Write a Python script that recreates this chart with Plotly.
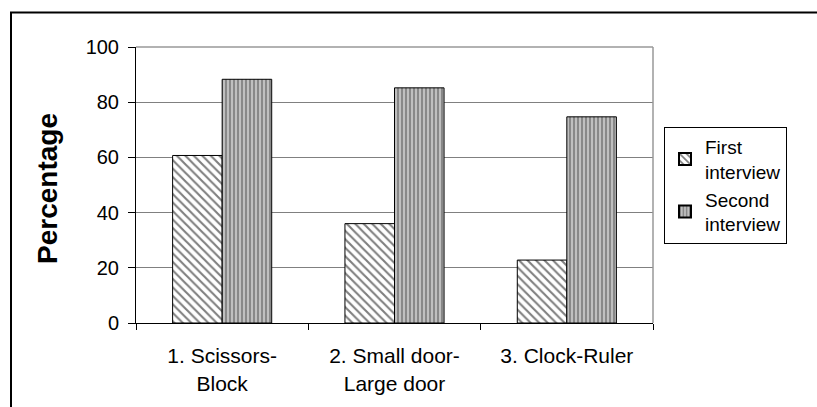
import plotly.graph_objects as go

categories = ["1. Scissors-<br>Block", "2. Small door-<br>Large door", "3. Clock-Ruler"]
first_interview = [60.7, 36.0, 22.8]
second_interview = [88.3, 85.2, 74.7]
y_ticks = [0, 20, 40, 60, 80, 100]
y_title = "Percentage"

W, H = 817, 407
L, R, T, B = 136, 653, 47, 327
pw, ph = R - L, B - T

def px_x(x):
    return (x - L) / pw

def px_y(y):
    return (B - y) / ph

fig = go.Figure()
fig.add_trace(go.Bar(
    x=categories, y=first_interview, name="First<br>interview",
    marker=dict(color="white", line=dict(color="black", width=1),
                pattern=dict(shape="\\", fgcolor="black", bgcolor="white", size=6, solidity=0.35)),
))
fig.add_trace(go.Bar(
    x=categories, y=second_interview, name="Second<br>interview",
    marker=dict(color="#bdbdbd", line=dict(color="black", width=1),
                pattern=dict(shape="|", fgcolor="#333333", bgcolor="#bfbfbf", size=4, solidity=0.4)),
))

font = "Liberation Sans, Arial, sans-serif"
fig.update_layout(
    width=W, height=H,
    margin=dict(l=L, r=W - R, t=T, b=H - B),
    paper_bgcolor="white", plot_bgcolor="white",
    font=dict(family=font, size=19, color="black"),
    barmode="group", bargap=0.425, bargroupgap=0,
    showlegend=True,
    legend=dict(x=px_x(664), y=px_y(128), xanchor="left", yanchor="top",
                bordercolor="black", borderwidth=1, bgcolor="white",
                font=dict(size=19), tracegroupgap=0, itemsizing="constant"),
    xaxis=dict(type="category", showline=True, linecolor="black", linewidth=1,
               ticks="outside", tickson="boundaries", ticklen=6, tickcolor="black",
               showgrid=False, mirror=False, tickfont=dict(size=21), ticklabelstandoff=14),
    yaxis=dict(range=[0, 100], tickvals=y_ticks, showline=True, linecolor="black", linewidth=1,
               showgrid=True, gridcolor="#808080", gridwidth=1,
               ticks="outside", ticklen=7, tickcolor="black", ticklabelstandoff=5,
               tickfont=dict(size=20), zeroline=False),
    annotations=[
        dict(text="<b>" + y_title + "</b>", xref="paper", yref="paper",
             x=px_x(48), y=px_y(191), textangle=-90, showarrow=False,
             xanchor="center", yanchor="middle", font=dict(size=28)),
    ],
    shapes=[
        dict(type="line", xref="paper", yref="paper", x0=1, x1=1, y0=0, y1=1,
             line=dict(color="#999999", width=1.5)),
        dict(type="line", xref="paper", yref="paper", x0=0, x1=1, y0=1, y1=1,
             line=dict(color="#999999", width=1.5)),
        dict(type="rect", xref="paper", yref="paper",
             x0=px_x(11), x1=px_x(830), y0=px_y(420), y1=px_y(12),
             line=dict(color="black", width=2), layer="below"),
    ],
)

fig.write_html("out.html", config={"displayModeBar": False},
               post_script="document.body.style.margin='0';")
